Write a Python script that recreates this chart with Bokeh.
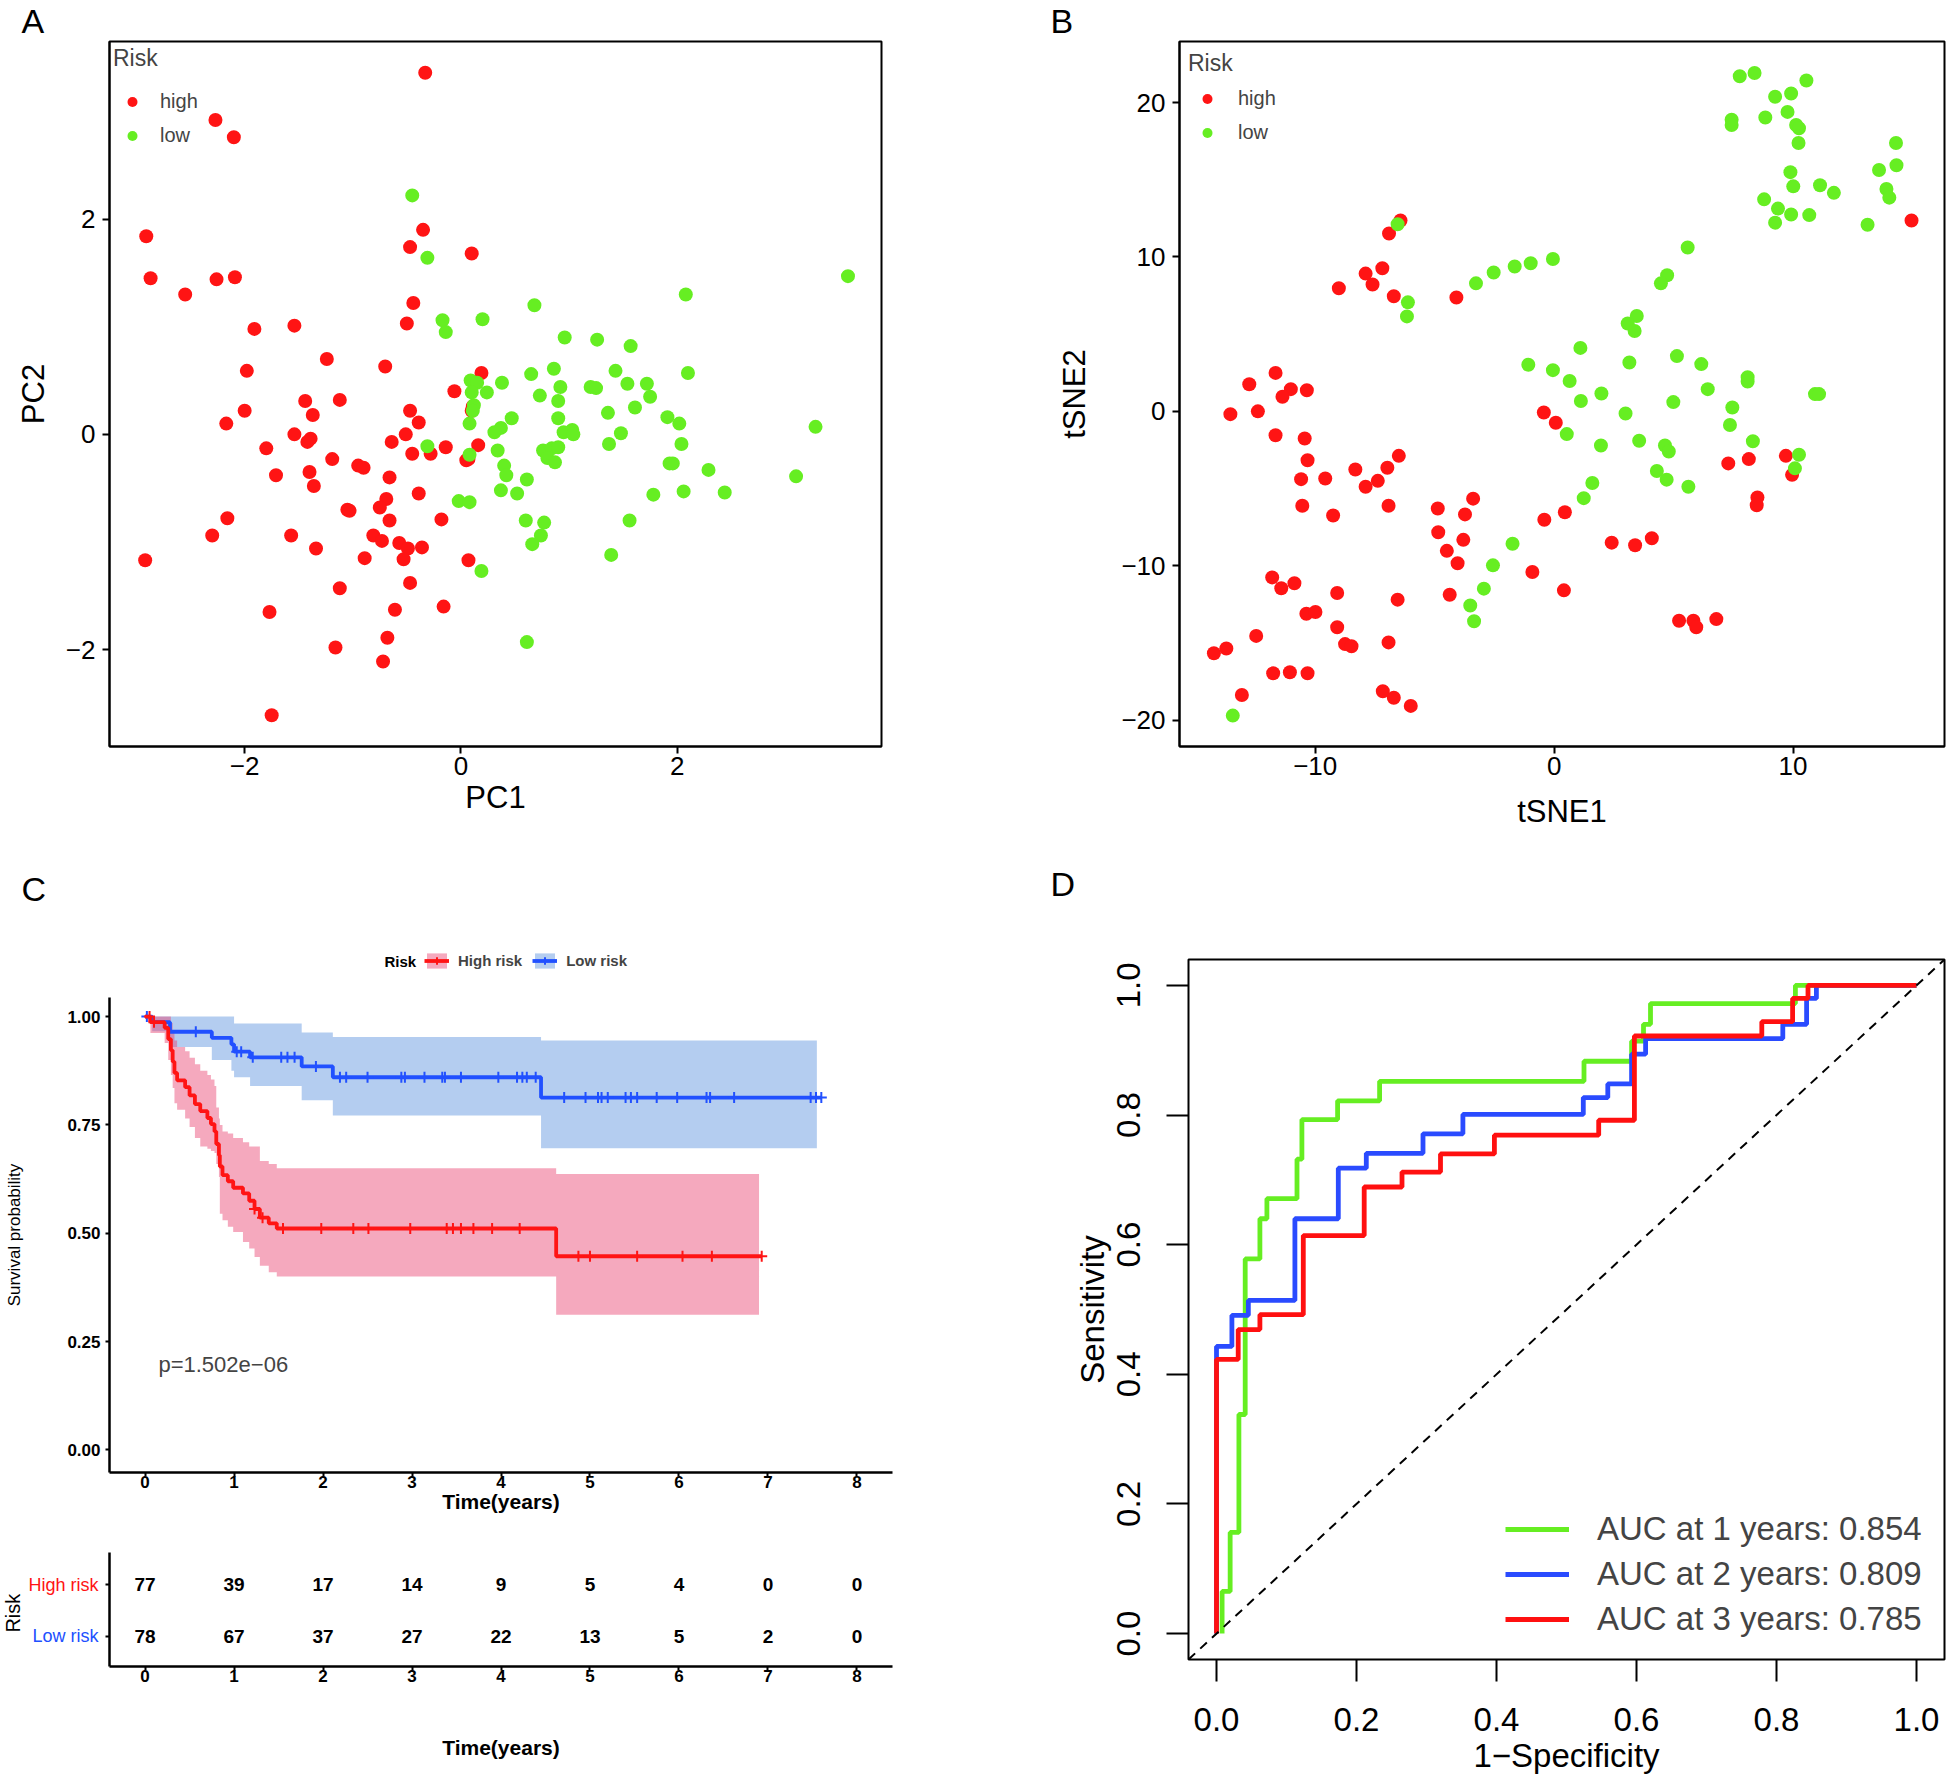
import numpy as np
from bokeh.plotting import figure
from bokeh.models import (Range1d, Label, Legend, LegendItem, FixedTicker, Slope,
                          NumeralTickFormatter)
from bokeh.layouts import row, column
from bokeh.embed import file_html
from bokeh.resources import INLINE
from bokeh.core.properties import value

FONT = "Liberation Sans"
RED = "#FF1414"
GREEN = "#66EE22"
BLUE = "#2150FF"

# ---------------- Panel A : PCA ----------------
pca_high_pc1 = [-0.33, -2.27, -2.10, -2.91, -2.87, -2.55, -2.26, -2.09, -0.35, -0.47,
                0.10, -0.44, -0.50, -1.91, -1.54, -1.24, -0.70, -1.98, 0.19, -0.06,
                -1.44, -1.12, -2.00, -0.47, -1.37, 0.11, 0.10, -2.17, -0.39, -1.54,
                -1.39, -1.42, -0.51, -0.64, -1.80, -0.14, -0.45, -0.28, 0.16, -1.19,
                0.05, 0.07, -0.95, -0.90, -1.71, -1.40, -0.66, -1.36, -0.39, -0.69,
                -0.75, -1.05, -1.03, -2.16, -0.66, -0.18, -2.30, -1.57, -0.81, -0.73,
                -0.57, -0.49, -0.36, -1.34, -2.92, -0.89, -0.53, 0.07, -1.12, -0.47,
                -1.77, -0.61, -0.16, -1.16, -0.68, -0.72, -1.75]
pca_high_pc2 = [3.36, 2.92, 2.76, 1.84, 1.45, 1.30, 1.44, 1.46, 1.90, 1.74,
                1.68, 1.22, 1.03, 0.98, 1.01, 0.70, 0.63, 0.59, 0.57, 0.40,
                0.31, 0.32, 0.22, 0.22, 0.18, 0.26, 0.22, 0.10, 0.11, 0.0,
                -0.04, -0.07, 0.0, -0.07, -0.13, -0.12, -0.18, -0.18, -0.10, -0.23,
                -0.24, -0.23, -0.29, -0.31, -0.38, -0.35, -0.40, -0.48, -0.55, -0.60,
                -0.68, -0.70, -0.71, -0.78, -0.80, -0.79, -0.94, -0.94, -0.94, -0.99,
                -1.01, -1.06, -1.05, -1.06, -1.17, -1.15, -1.16, -1.17, -1.43, -1.38,
                -1.65, -1.63, -1.60, -1.98, -1.89, -2.11, -2.61]
pca_low_pc1 = [-0.45, -0.31, 3.58, 2.08, 0.68, -0.17, -0.14, 0.20, 0.96, 1.26,
               1.57, 0.86, 0.65, 1.43, 2.10, 0.09, 0.15, 0.38, 0.92, 1.20,
               1.25, 1.54, 1.72, 0.24, 0.10, 0.73, 0.90, 1.75, 0.12, 1.61,
               1.36, 0.47, 0.90, 1.91, 0.08, 2.02, 3.28, 0.37, 0.31, 0.95,
               1.03, 1.04, 1.48, 1.37, 2.04, -0.31, 0.34, 0.76, 0.84, 0.90,
               0.08, 0.80, 0.87, 0.40, 0.42, 1.93, 1.96, 2.29, 3.10, 0.61,
               0.37, 0.52, 1.78, 2.06, 2.44, -0.02, 0.08, 0.60, 0.77, 1.56,
               0.74, 0.66, 1.39, 0.19, 0.61, 0.11]
pca_low_pc2 = [2.22, 1.64, 1.47, 1.30, 1.20, 1.06, 0.95, 1.07, 0.90, 0.88,
               0.82, 0.61, 0.56, 0.59, 0.57, 0.50, 0.48, 0.48, 0.44, 0.44,
               0.43, 0.47, 0.47, 0.39, 0.39, 0.36, 0.31, 0.35, 0.27, 0.25,
               0.20, 0.15, 0.15, 0.16, 0.10, 0.10, 0.07, 0.06, 0.02, 0.02,
               0.04, 0.0, 0.01, -0.09, -0.09, -0.11, -0.15, -0.15, -0.13, -0.12,
               -0.19, -0.22, -0.26, -0.29, -0.38, -0.27, -0.27, -0.33, -0.39, -0.42,
               -0.52, -0.55, -0.56, -0.53, -0.54, -0.62, -0.63, -0.80, -0.82, -0.80,
               -0.94, -1.02, -1.12, -1.27, -1.93, 0.22]
pca_ticks = [-2, 0, 2]
pca_tick_labels = ["\u22122", "0", "2"]

# ---------------- Panel B : tSNE ----------------
tsne_high_x = [-6.43, -6.91, -7.89, -7.19, -7.60, -9.01, -6.71, -4.09, 14.96, -11.66,
               -12.76, -11.02, -10.35, -11.37, -13.55, -12.40, -0.43, 0.07, -11.66, -10.44,
               -10.32, -6.50, -6.98, -8.32, -10.59, -9.58, -7.38, -7.89, -10.54, -6.93,
               -9.25, -3.39, -4.87, -3.73, -4.85, -0.41, 0.45, -3.80, -4.49, -4.04,
               2.41, 3.39, 4.09, 7.29, 8.15, 9.70, 9.96, 8.51, 8.48, -0.91,
               0.41, -11.80, -11.42, -10.87, -9.08, -4.37, -6.55, -10.37, -9.99, -9.08,
               -12.47, -8.75, -8.48, -6.93, 5.23, 5.83, 5.95, 6.79, -14.24, -13.72,
               -11.76, -11.06, -10.32, -13.07, -7.17, -6.71, -6.00]
tsne_high_y = [12.36, 11.52, 8.92, 9.27, 8.22, 7.97, 7.45, 7.37, 12.36, 2.49,
               1.76, 1.44, 1.37, 0.95, -0.18, 0.0, -0.07, -0.74, -1.55, -1.76,
               -3.16, -2.88, -3.65, -3.76, -4.39, -4.35, -4.50, -4.88, -6.11, -6.11,
               -6.74, -5.65, -6.29, -6.67, -7.83, -7.02, -6.53, -8.32, -9.03, -9.83,
               -8.50, -8.67, -8.22, -3.37, -3.09, -2.88, -4.11, -5.58, -6.08, -10.40,
               -11.59, -10.75, -11.45, -11.13, -11.76, -11.87, -12.19, -13.10, -12.99, -13.98,
               -14.54, -15.07, -15.21, -14.96, -13.56, -13.56, -13.98, -13.45, -15.66, -15.35,
               -16.96, -16.89, -16.96, -18.37, -18.12, -18.54, -19.07]
tsne_low_x = [7.77, 8.39, 10.56, 9.25, 9.92, 7.43, 7.43, 8.84, 9.77, 10.13,
              10.25, 10.23, 14.31, 14.33, 13.60, 9.89, 10.01, 11.13, 11.71, 13.91,
              14.03, 8.79, 9.37, 9.92, 10.68, 9.25, 13.12, -6.55, 5.59, 4.73,
              4.47, -0.05, -0.98, -1.65, -2.53, -3.27, -6.12, -6.16, 3.46, 3.08,
              3.37, 1.10, -1.08, -0.05, 3.15, 5.14, 6.16, 0.65, 1.98, 6.43,
              8.10, 8.10, 10.92, 11.09, 1.12, 4.99, 7.46, 2.99, 7.36, 0.53,
              3.56, 1.96, 4.64, 4.80, 8.32, 10.25, 10.08, 4.30, 4.71, 5.62,
              1.60, 1.24, -1.74, -2.56, -2.94, -3.51, -3.35, -13.45]
tsne_low_y = [21.70, 21.91, 21.42, 20.37, 20.58, 18.89, 18.54, 19.03, 19.39, 18.54,
              18.33, 17.38, 17.38, 15.94, 15.63, 15.49, 14.57, 14.64, 14.15, 14.40,
              13.84, 13.73, 13.13, 12.75, 12.71, 12.22, 12.08, 12.12, 10.61, 8.81,
              8.29, 9.87, 9.59, 9.38, 8.99, 8.29, 7.06, 6.15, 6.18, 5.69,
              5.20, 4.11, 3.02, 2.67, 3.16, 3.58, 3.06, 1.97, 1.16, 1.44,
              2.21, 1.93, 1.12, 1.12, 0.67, 0.60, 0.25, -0.14, -0.88, -1.47,
              -1.90, -2.21, -2.21, -2.60, -1.93, -2.81, -3.69, -3.86, -4.42, -4.88,
              -4.64, -5.62, -8.57, -9.97, -11.48, -12.57, -13.59, -19.70]
tsne_xticks = [-10, 0, 10]
tsne_xtick_labels = ["\u221210", "0", "10"]
tsne_yticks = [-20, -10, 0, 10, 20]
tsne_ytick_labels = ["\u221220", "\u221210", "0", "10", "20"]

# ---------------- Panel C : Kaplan-Meier ----------------
km_groups = ["High risk", "Low risk"]
high_t = [0, 0.06, 0.22, 0.26, 0.29, 0.31, 0.33, 0.36, 0.45, 0.50, 0.56, 0.62, 0.70, 0.74,
          0.78, 0.80, 0.83, 0.84, 0.87, 0.93, 0.99, 1.10, 1.17, 1.23, 1.29, 1.39, 1.48, 4.62]
high_s = [1.0, 0.987, 0.974, 0.948, 0.922, 0.896, 0.870, 0.853, 0.837, 0.818, 0.798, 0.782, 0.766, 0.752,
          0.735, 0.706, 0.680, 0.654, 0.634, 0.620, 0.605, 0.592, 0.575, 0.556, 0.536, 0.523, 0.511, 0.447]
high_up = [1.0, 1.0, 1.0, 1.0, 0.985, 0.965, 0.945, 0.93, 0.92, 0.905, 0.89, 0.875, 0.865, 0.855,
           0.84, 0.79, 0.765, 0.75, 0.735, 0.73, 0.72, 0.71, 0.70, 0.70, 0.667, 0.66, 0.65, 0.637]
high_lo = [1.0, 0.962, 0.939, 0.90, 0.865, 0.835, 0.80, 0.785, 0.765, 0.745, 0.72, 0.70, 0.695, 0.69,
           0.685, 0.66, 0.63, 0.545, 0.53, 0.515, 0.503, 0.48, 0.465, 0.445, 0.425, 0.41, 0.40, 0.312]
high_band_end = 6.90
high_cens = [0.05, 0.10, 1.23, 1.32, 1.55, 1.98, 2.34, 2.51, 2.98, 3.39, 3.46, 3.55, 3.69, 3.90,
             4.21, 4.87, 5.00, 5.53, 6.04, 6.37, 6.93]

low_t = [0, 0.08, 0.28, 0.75, 0.97, 1.0, 1.18, 1.76, 2.11, 4.45]
low_s = [1.0, 0.987, 0.965, 0.951, 0.936, 0.919, 0.906, 0.885, 0.860, 0.813]
low_up = [1.0, 1.0, 1.0, 1.0, 1.0, 0.984, 0.984, 0.963, 0.953, 0.945]
low_lo = [1.0, 0.966, 0.93, 0.90, 0.875, 0.86, 0.84, 0.807, 0.772, 0.696]
low_band_end = 7.55
low_cens = [0.02, 0.57, 1.03, 1.08, 1.21, 1.53, 1.60, 1.68, 1.92, 2.19, 2.26, 2.50, 2.88, 2.92,
            3.14, 3.34, 3.37, 3.55, 3.97, 4.18, 4.24, 4.29, 4.39, 4.71, 4.95, 5.09, 5.13, 5.20,
            5.40, 5.46, 5.53, 5.75, 5.98, 6.31, 6.35, 6.62, 7.48, 7.54, 7.60]
p_value_text = "p=1.502e\u221206"
km_xticks = [0, 1, 2, 3, 4, 5, 6, 7, 8]
km_yticks = [0.0, 0.25, 0.5, 0.75, 1.0]

# risk table
table_times = [0, 1, 2, 3, 4, 5, 6, 7, 8]
table_high = [77, 39, 17, 14, 9, 5, 4, 0, 0]
table_low = [78, 67, 37, 27, 22, 13, 5, 2, 0]

# ---------------- Panel D : time-dependent ROC ----------------
roc_years = [1, 2, 3]
roc_auc = ["0.854", "0.809", "0.785"]
roc1_fpr = [0.008, 0.0195, 0.032, 0.041, 0.062, 0.072, 0.115, 0.122, 0.173, 0.233, 0.525, 0.593, 0.61, 0.62, 0.827]
roc1_tpr = [0.065, 0.156, 0.338, 0.578, 0.64, 0.671, 0.732, 0.793, 0.822, 0.852, 0.883, 0.914, 0.94, 0.972, 1.0]
roc2_fpr = [0.0, 0.022, 0.0455, 0.112, 0.174, 0.214, 0.295, 0.352, 0.524, 0.559, 0.593, 0.613, 0.809, 0.843, 0.857]
roc2_tpr = [0.443, 0.491, 0.514, 0.64, 0.718, 0.741, 0.771, 0.801, 0.827, 0.848, 0.894, 0.918, 0.940, 0.98, 1.0]
roc3_fpr = [0.0, 0.031, 0.062, 0.124, 0.211, 0.265, 0.320, 0.397, 0.546, 0.597, 0.779, 0.823, 0.845]
roc3_tpr = [0.423, 0.469, 0.492, 0.614, 0.689, 0.712, 0.74, 0.769, 0.792, 0.922, 0.944, 0.98, 1.0]
roc_ticks = [0.0, 0.2, 0.4, 0.6, 0.8, 1.0]


def make_fig(fw, fh, xr, yr, left, right, top, bottom):
    p = figure(frame_width=fw, frame_height=fh, x_range=Range1d(*xr), y_range=Range1d(*yr),
               output_backend="svg", toolbar_location=None, tools="",
               min_border_left=left, min_border_right=right,
               min_border_top=top, min_border_bottom=bottom)
    if "frame_align" in p.properties():
        p.frame_align = False
    p.xgrid.visible = False
    p.ygrid.visible = False
    p.background_fill_color = "white"
    p.border_fill_color = "white"
    return p


def bare_fig(fw, fh, xr, yr, top=0, bottom=0):
    p = make_fig(fw, fh, xr, yr, 0, 0, top, bottom)
    p.xaxis.visible = False
    p.yaxis.visible = False
    p.outline_line_color = None
    return p


def add_letter(p, letter, x, y):
    p.text(x=[x], y=[y], text=[letter], text_font=value(FONT), text_font_size=value("34px"),
           text_align="left", text_baseline="middle", text_color="black")


def header(w, h, letter, x, y):
    p = bare_fig(w, h, (0, w), (0, h))
    add_letter(p, letter, x, y)
    return p


def style_axis(ax, size, tick_out, standoff, title_size=None, title_standoff=0,
               bold=False, title_bold=False, line_width=2, tick_width=2):
    ax.major_label_text_font = FONT
    ax.major_label_text_font_size = size
    ax.major_label_text_color = "black"
    ax.major_label_text_font_style = "bold" if bold else "normal"
    ax.major_tick_out = tick_out
    ax.major_tick_in = 0
    ax.major_tick_line_width = tick_width
    ax.major_tick_line_color = "black"
    ax.minor_tick_line_color = None
    ax.major_label_standoff = standoff
    ax.axis_line_width = line_width
    ax.axis_line_color = "black"
    if title_size:
        ax.axis_label_text_font = FONT
        ax.axis_label_text_font_size = title_size
        ax.axis_label_text_font_style = "bold" if title_bold else "normal"
        ax.axis_label_text_color = "black"
        ax.axis_label_standoff = title_standoff


def scatter_panel(fw, fh, xr, yr, left, right, top, bottom, hx, hy, lx, ly,
                  xticks, xlabels, yticks, ylabels, xtitle, ytitle,
                  x_title_standoff, y_title_standoff, leg_margin, leg_pad, leg_standoff,
                  title_standoff):
    p = make_fig(fw, fh, xr, yr, left, right, top, bottom)
    p.outline_line_color = "black"
    p.outline_line_width = 2
    rh = p.scatter(hx, hy, size=14, fill_color=RED, line_color=None)
    rl = p.scatter(lx, ly, size=14, fill_color=GREEN, line_color=None)
    p.xaxis.ticker = FixedTicker(ticks=xticks)
    p.xaxis.major_label_overrides = dict(zip(xticks, xlabels))
    p.yaxis.ticker = FixedTicker(ticks=yticks)
    p.yaxis.major_label_overrides = dict(zip(yticks, ylabels))
    p.xaxis.axis_label = xtitle
    p.yaxis.axis_label = ytitle
    style_axis(p.xaxis, "26px", 7, 3, "31px", x_title_standoff)
    style_axis(p.yaxis, "26px", 7, 7, "31px", y_title_standoff)
    leg = Legend(items=[LegendItem(label="high", renderers=[rh]),
                        LegendItem(label="low", renderers=[rl])],
                 title="Risk", location="top_left", orientation="vertical",
                 padding=leg_pad, margin=leg_margin, spacing=9, glyph_width=38, glyph_height=25,
                 label_standoff=leg_standoff, title_standoff=title_standoff, label_height=20,
                 border_line_color=None, background_fill_alpha=0,
                 label_text_font=FONT, label_text_font_size="20px",
                 title_text_font=FONT, title_text_font_size="23px",
                 title_text_font_style="normal")
    p.add_layout(leg)
    return p


# ---------- A (left column, top) ----------
hA = header(973, 40, "A", 21, 20)
pA = scatter_panel(772, 705, (-3.25, 3.89), (-2.90, 3.65), 109, 92, 1, 117,
                   pca_high_pc1, pca_high_pc2, pca_low_pc1, pca_low_pc2,
                   pca_ticks, pca_tick_labels, pca_ticks, pca_tick_labels,
                   "PC1", "PC2", 2, 12, 4, 2, 9, 17)

# ---------- B (right column, top) ----------
hB = header(973, 40, "B", 77, 20)
pB = scatter_panel(765, 705, (-15.68, 16.34), (-21.7, 23.95), 206, 2, 1, 117,
                   tsne_high_x, tsne_high_y, tsne_low_x, tsne_low_y,
                   tsne_xticks, tsne_xtick_labels, tsne_yticks, tsne_ytick_labels,
                   "tSNE1", "tSNE2", 16, 26, 9, 10, 12, 9)

# ---------- C main ----------
groups = [
    dict(name=km_groups[0], t=high_t, s=high_s, up=high_up, lo=high_lo, bend=high_band_end,
         cens=high_cens, color=RED, band="#E8406E", alpha=0.45),
    dict(name=km_groups[1], t=low_t, s=low_s, up=low_up, lo=low_lo, bend=low_band_end,
         cens=low_cens, color=BLUE, band="#4482D9", alpha=0.40),
]
LINE_W = 3.8

# header of C holds the panel letter and the legend
HC_H = 126
hC = bare_fig(973, HC_H, (0, 973), (0, HC_H))
add_letter(hC, "C", 21, 101)
hC.text(x=[384], y=[28], text=["Risk"], text_font=value(FONT), text_font_size=value("15px"),
        text_font_style="bold", text_align="left", text_baseline="middle", text_color="black")
leg_items = []
for g in groups:
    kb = hC.varea(x=[np.nan], y1=[np.nan], y2=[np.nan], fill_color=g["band"], fill_alpha=g["alpha"])
    kl = hC.line(x=[np.nan], y=[np.nan], line_color=g["color"], line_width=LINE_W)
    kc = hC.scatter(x=[np.nan], y=[np.nan], marker="cross", size=11, line_color=g["color"],
                    line_width=2)
    leg_items.append(LegendItem(label=g["name"], renderers=[kb, kl, kc]))
hC.add_layout(Legend(items=leg_items, location=(424, 19), orientation="horizontal",
                     padding=0, margin=0, spacing=10, glyph_width=25, glyph_height=19,
                     label_standoff=9, border_line_color=None, background_fill_alpha=0,
                     label_text_font=FONT, label_text_font_size="15px",
                     label_text_font_style="bold"))

pC = make_fig(783, 475, (-0.4, 8.4), (-0.052, 1.044), 109, 81, 8, 60)
pC.outline_line_color = None


def stair(t, vals, end):
    bounds = list(t) + [end]
    xs = np.repeat(bounds, 2)[1:-1]
    return xs, np.repeat(vals, 2)


for g in groups[::-1]:
    xs, lo = stair(g["t"], g["lo"], g["bend"])
    _, up = stair(g["t"], g["up"], g["bend"])
    pC.varea(x=xs, y1=lo, y2=up, fill_color=g["band"], fill_alpha=g["alpha"])
for g in groups[::-1]:
    end = g["cens"][-1]
    xs = list(g["t"]) + [end]
    ys = list(g["s"]) + [g["s"][-1]]
    pC.step(xs, ys, mode="after", line_color=g["color"], line_width=LINE_W)
    idx = np.searchsorted(np.array(g["t"]), np.array(g["cens"]), side="right") - 1
    cy = np.array(g["s"])[idx]
    pC.scatter(g["cens"], cy, marker="cross", size=11, line_color=g["color"], line_width=2)

pC.xaxis.ticker = FixedTicker(ticks=km_xticks)
pC.yaxis.ticker = FixedTicker(ticks=km_yticks)
pC.yaxis.formatter = NumeralTickFormatter(format="0.00")
pC.xaxis.axis_label = "Time(years)"
pC.yaxis.axis_label = "Survival probability"
style_axis(pC.xaxis, "17px", 4, -1, "21px", -1, bold=True, title_bold=True, line_width=2.5)
style_axis(pC.yaxis, "17px", 4, 5, "17px", 40, bold=True, line_width=2.5)
pC.add_layout(Label(x=0.15, y=0.198, text=p_value_text, text_font=FONT,
                    text_font_size="22px", text_align="left", text_baseline="middle"))

# ---------- C risk table ----------
T_TOP, T_FH, T_BOT = 20, 114, 123
t_yrange = (-0.58, 1.62)
row_names = ["Low risk", "High risk"]
row_colors = [BLUE, RED]
row_counts = [table_low, table_high]

pL = bare_fig(101, T_FH, (0, 101), t_yrange, T_TOP, T_BOT)
pT = make_fig(783, T_FH, (-0.4, 8.4), t_yrange, 8, 81, T_TOP, T_BOT)
pT.outline_line_color = None
for i, name in enumerate(row_names):
    pT.text(x=table_times, y=[i] * len(table_times), text=[str(c) for c in row_counts[i]],
            text_font=value(FONT), text_font_size=value("19px"), text_font_style="bold",
            text_align="center", text_baseline="middle", text_color="black")
    pL.text(x=[98], y=[i], text=[name], text_font=value(FONT), text_font_size=value("18px"),
            text_color=row_colors[i], text_align="right", text_baseline="middle")
pL.text(x=[12], y=[0.45], text=["Risk"], angle=np.pi / 2, text_font=value(FONT),
        text_font_size=value("20px"), text_align="center", text_baseline="middle",
        text_color="black")
pT.xaxis.ticker = FixedTicker(ticks=km_xticks)
pT.yaxis.ticker = FixedTicker(ticks=list(range(len(row_names))))
pT.yaxis.major_label_overrides = {i: "" for i in range(len(row_names))}
pT.xaxis.axis_label = "Time(years)"
style_axis(pT.xaxis, "17px", 4, -1, "21px", 51, bold=True, title_bold=True, line_width=2.5)
style_axis(pT.yaxis, "10px", 4, 0, line_width=2.5)

# ---------- D ----------
hD = header(973, 40, "D", 77, 20)
pD = make_fig(756, 700, (-0.04, 1.04), (-0.04, 1.04), 215, 2, 56, 130)
pD.outline_line_color = "black"
pD.outline_line_width = 2
pD.add_layout(Slope(gradient=1, y_intercept=0, line_color="black", line_width=2,
                    line_dash="9 7"))
roc_sets = [(roc1_fpr, roc1_tpr, GREEN), (roc2_fpr, roc2_tpr, "#2A4BFF"),
            (roc3_fpr, roc3_tpr, "#FF1010")]
roc_r = []
for fpr, tpr, col in roc_sets:
    xs = list(fpr) + [1.0]
    ys = [0.0] + list(tpr)
    roc_r.append(pD.step(xs, ys, mode="before", line_color=col, line_width=4.8))
pD.xaxis.ticker = FixedTicker(ticks=roc_ticks)
pD.yaxis.ticker = FixedTicker(ticks=roc_ticks)
pD.xaxis.formatter = NumeralTickFormatter(format="0.0")
pD.yaxis.formatter = NumeralTickFormatter(format="0.0")
pD.yaxis.major_label_orientation = "vertical"
pD.xaxis.axis_label = "1\u2212Specificity"
pD.yaxis.axis_label = "Sensitivity"
style_axis(pD.xaxis, "33px", 22, 26, "33px", 3)
style_axis(pD.yaxis, "33px", 22, 26, "33px", 4)
pD.xaxis.axis_line_color = None
pD.yaxis.axis_line_color = None
legD = Legend(items=[LegendItem(label="AUC at %d years: %s" % (y, a), renderers=[r])
                     for y, a, r in zip(roc_years, roc_auc, roc_r)],
              location=(317, 21), orientation="vertical", padding=0, margin=0, spacing=7,
              glyph_width=64, glyph_height=38, label_standoff=28,
              border_line_color=None, background_fill_alpha=0,
              label_text_font=FONT, label_text_font_size="33px")
pD.add_layout(legD)

layout = row(column(row(hA), row(pA), row(hC), row(pC), row(pL, pT)),
             column(row(hB), row(pB), row(hD), row(pD)))
open("out.html", "w").write(file_html(layout, INLINE))
